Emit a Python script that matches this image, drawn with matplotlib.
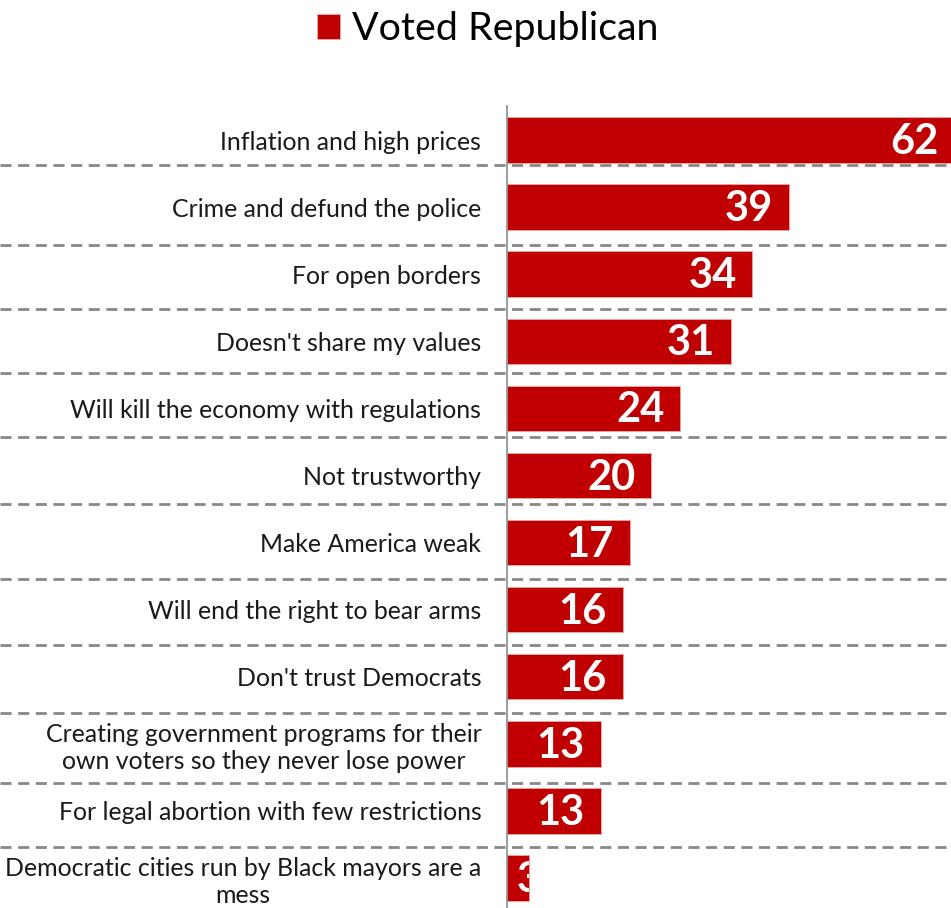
import matplotlib
matplotlib.use("Agg")
import matplotlib.pyplot as plt
from matplotlib.lines import Line2D

plt.rcParams['font.family'] = ['Lato', 'DejaVu Sans']
plt.rcParams['lines.scale_dashes'] = False

# data
categories = [
    "Inflation and high prices",
    "Crime and defund the police",
    "For open borders",
    "Doesn't share my values",
    "Will kill the economy with regulations",
    "Not trustworthy",
    "Make America weak",
    "Will end the right to bear arms",
    "Don't trust Democrats",
    "Creating government programs for their\nown voters so they never lose power",
    "For legal abortion with few restrictions",
    "Democratic cities run by Black mayors are a\nmess",
]
voted_rep = [62, 39, 34, 31, 24, 20, 17, 16, 16, 13, 13, 3]
series_name = "Voted Republican"

W, H = 951, 908
fig = plt.figure(figsize=(W / 100, H / 100), dpi=100)

# plot area: x axis at pixel 507, rows 67.1 px apart, first row centred at 140 px
row_px = 67.09
top_px = 140 - row_px / 2
bot_px = 140 + 11.5 * row_px
ax = fig.add_axes([507 / W, (H - bot_px) / H, (W - 507) / W, (bot_px - top_px) / H])

ypos = list(range(len(categories)))
bars = ax.barh(ypos, voted_rep, height=0.677, color='#C00000',
               edgecolor='#EBA3A3', linewidth=0.7, label=series_name, zorder=2)

ax.set_xlim(0, (W - 507) / 7.22)
ax.set_ylim(len(categories) - 0.5, -0.5)
ax.set_xticks([])
ax.set_yticks(ypos)
ax.set_yticklabels(categories, fontsize=17.9, color='#1a1a1a',
                   multialignment='center', linespacing=1.22)
ax.tick_params(axis='y', length=0, pad=18.5)

for s in ['top', 'right', 'bottom']:
    ax.spines[s].set_visible(False)
ax.spines['left'].set_color('#8c8c8c')
ax.spines['left'].set_linewidth(1.2)

# value labels inside the bar end
for bar, v in zip(bars, voted_rep):
    yc = bar.get_y() + bar.get_height() / 2
    if v >= 5:
        t = ax.annotate(str(v), (v, yc), xytext=(-11.5, -1.5), textcoords='offset points',
                        ha='right', va='center', color='white',
                        fontsize=30, fontweight='bold', annotation_clip=False)
    else:
        # too short: centred on the bar end, only the part over the bar shows
        t = ax.annotate(str(v), (v, yc), xytext=(0, -1.5), textcoords='offset points',
                        ha='center', va='center', color='white',
                        fontsize=30, fontweight='bold', annotation_clip=False)
        t.set_clip_path(bar)

# dashed row separators across the whole width
sep_px = [164.5, 245, 308.5, 372.7, 436.7, 504.3, 579, 645, 713, 783.3, 847]
for py in sep_px:
    fig.add_artist(Line2D([0, 1], [1 - py / H, 1 - py / H], transform=fig.transFigure,
                          color='#888888', linewidth=2.0, linestyle=(0, (8, 4.7)), zorder=1))

fig.legend(handles=[bars], labels=[series_name], loc='center', bbox_to_anchor=(487.5 / W, 1 - 29 / H),
           frameon=False, fontsize=28.4, handlelength=0.6, handleheight=0.6, handletextpad=0.3)

fig.savefig("out.png", dpi=100)
